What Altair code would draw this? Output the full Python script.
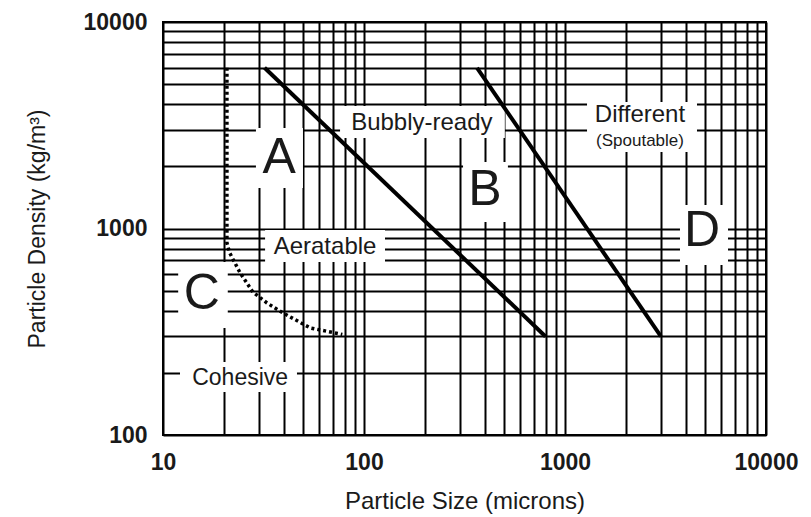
import altair as alt
import pandas as pd

# Grid / tick values
x_grid = [10, 20, 30, 40, 50, 60, 70, 80, 90,
          100, 200, 300, 400, 500, 600, 700, 800, 900,
          1000, 2000, 3000, 4000, 5000, 6000, 7000, 8000, 9000, 10000]
y_grid = [100, 200, 300, 400, 500, 600, 700, 800, 900,
          1000, 2000, 3000, 4000, 5000, 6000, 7000, 8000, 9000, 10000]

# Boundary lines
ab_x = [32, 800]
ab_y = [6000, 300]
bd_x = [365, 3000]
bd_y = [6000, 300]
ca_x = [20.8, 20.8, 21.5, 24.2, 28, 32.9, 39.5, 54, 78]
ca_y = [6000, 850, 760, 609, 492, 436, 390, 330, 307]

# Labels
lab_text = ["A", "B", "C", "D", "Bubbly-ready", "Aeratable", "Cohesive",
            "Different", "(Spoutable)"]
lab_x = [37.8, 400, 15.6, 4804, 194, 64.0, 24.2, 2361, 2361]
lab_y = [2195, 1536, 482, 972, 3243, 813, 189, 3545, 2652]
lab_size = [50, 50, 50, 50, 24, 24, 23, 24, 17]

# White boxes behind labels
box_x1 = [29.0, 311, 11.9, 3733, 76, 32.2, 12.15, 1287]
box_x2 = [49.7, 520, 21.0, 6471, 502, 127.2, 46.4, 4536]
box_y1 = [1571, 1075, 330, 666, 2742, 688, 161.5, 2347]
box_y2 = [3066, 2099, 688, 1300, 3920, 983, 225.7, 4099]

lines = pd.DataFrame(
    [{"line": "AB", "i": i, "x": x, "y": y} for i, (x, y) in enumerate(zip(ab_x, ab_y))]
    + [{"line": "BD", "i": i, "x": x, "y": y} for i, (x, y) in enumerate(zip(bd_x, bd_y))]
)
dotted = pd.DataFrame({"i": list(range(len(ca_x))), "x": ca_x, "y": ca_y})
labels = pd.DataFrame({"t": lab_text, "x": lab_x, "y": lab_y, "fs": lab_size})
boxes = pd.DataFrame({"x": box_x1, "x2": box_x2, "y": box_y1, "y2": box_y2})

FONT = "Liberation Sans"
label_expr = "indexof([10,100,1000,10000], datum.value) >= 0 ? datum.label : ''"

xscale = alt.Scale(type="log", domain=[10, 10000], nice=False)
yscale = alt.Scale(type="log", domain=[100, 10000], nice=False)

xaxis = alt.Axis(values=x_grid, format="d", labelExpr=label_expr, grid=True,
                 gridColor="black", gridWidth=2, gridOpacity=1, ticks=False,
                 domain=False, labelOverlap=False, labelFlush=False,
                 labelFont=FONT, labelFontSize=23, labelFontWeight="bold",
                 labelColor="#1a1a1a", labelPadding=16,
                 title="Particle Size (microns)", titleFont=FONT,
                 titleFontSize=24, titleFontWeight="normal", titleColor="#1a1a1a",
                 titlePadding=15)
yaxis = alt.Axis(values=y_grid, format="d", labelExpr=label_expr, grid=True,
                 gridColor="black", gridWidth=2, gridOpacity=1, ticks=False,
                 domain=False, labelOverlap=False, labelFlush=False,
                 labelFont=FONT, labelFontSize=23, labelFontWeight="bold",
                 labelColor="#1a1a1a", labelPadding=16,
                 title="Particle Density (kg/m³)", titleFont=FONT,
                 titleFontSize=23, titleFontWeight="normal", titleColor="#1a1a1a",
                 titlePadding=34)

rects = alt.Chart(boxes).mark_rect(fill="white", stroke=None).encode(
    x=alt.X("x:Q", scale=xscale, axis=xaxis),
    x2="x2:Q",
    y=alt.Y("y:Q", scale=yscale, axis=yaxis),
    y2="y2:Q",
)

solid = alt.Chart(lines).mark_line(color="black", strokeWidth=4).encode(
    x=alt.X("x:Q", scale=xscale),
    y=alt.Y("y:Q", scale=yscale),
    detail="line:N",
    order="i:Q",
)

dots = alt.Chart(dotted).mark_line(color="black", strokeWidth=3.5, strokeDash=[3, 3]).encode(
    x=alt.X("x:Q", scale=xscale),
    y=alt.Y("y:Q", scale=yscale),
    order="i:Q",
)

texts = alt.Chart(labels).mark_text(font=FONT, color="#1a1a1a", baseline="middle",
                                    align="center").encode(
    x=alt.X("x:Q", scale=xscale),
    y=alt.Y("y:Q", scale=yscale),
    text="t:N",
    size=alt.Size("fs:Q", scale=None, legend=None),
)

chart = alt.layer(rects, solid, dots, texts).properties(
    width=603, height=413,
    autosize=alt.AutoSizeParams(type="none"),
    padding={"left": 155, "top": 14, "right": 37, "bottom": 84},
).configure_view(stroke="black", strokeWidth=2)

chart.save("out.html", embed_options={"renderer": "svg", "actions": False})
